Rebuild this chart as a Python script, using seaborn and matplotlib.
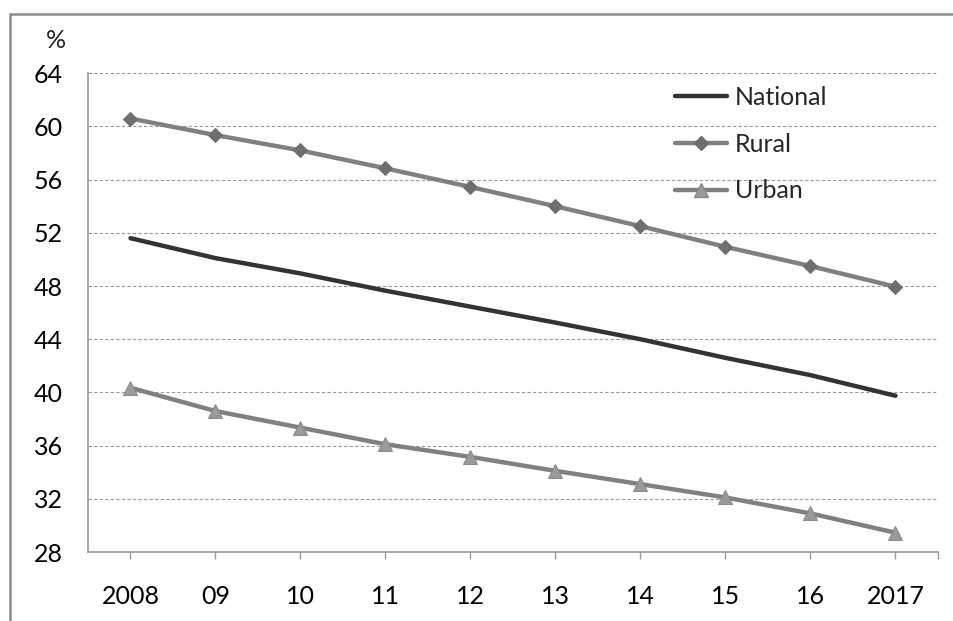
import matplotlib
matplotlib.use("Agg")
import matplotlib.pyplot as plt
import seaborn as sns
import pandas as pd
from matplotlib.patches import Rectangle
from matplotlib.lines import Line2D

years = ["2008", "09", "10", "11", "12", "13", "14", "15", "16", "2017"]
national = [51.6, 50.1, 48.95, 47.65, 46.45, 45.25, 44.0, 42.6, 41.3, 39.75]
rural = [60.6, 59.35, 58.2, 56.85, 55.45, 54.0, 52.5, 50.95, 49.5, 47.95]
urban = [40.35, 38.6, 37.35, 36.1, 35.15, 34.1, 33.1, 32.1, 30.9, 29.45]
y_ticks = [28, 32, 36, 40, 44, 48, 52, 56, 60, 64]

sns.set_theme(style="white")
plt.rcParams["font.family"] = ["Lato", "DejaVu Sans"]

FS = 18

pos = list(range(len(years)))
df = pd.DataFrame({
    "pos": pos * 3,
    "value": national + rural + urban,
    "series": ["National"] * 10 + ["Rural"] * 10 + ["Urban"] * 10,
})

fig = plt.figure(figsize=(9.54, 6.21), dpi=100)
ax = fig.add_axes([88 / 954, 1 - 552 / 621, (938 - 88) / 954, (552 - 73.3) / 621])

palette = {"National": "#333333", "Rural": "#808080", "Urban": "#808080"}
sns.lineplot(data=df, x="pos", y="value", hue="series", palette=palette,
             linewidth=3.2, ax=ax, legend=False)
# markers drawn on top with their own fill colours
ax.lines[1].set_marker("D")
ax.lines[1].set_markersize(7.5)
ax.lines[1].set_markerfacecolor("#6e6e6e")
ax.lines[1].set_markeredgecolor("#6e6e6e")
ax.lines[2].set_marker("^")
ax.lines[2].set_markersize(10)
ax.lines[2].set_markerfacecolor("#9a9a9a")
ax.lines[2].set_markeredgecolor("#8a8a8a")
ax.lines[0].set_solid_capstyle("round")

ax.set_xlim(-0.5, 9.5)
ax.set_ylim(28, 64)
ax.set_yticks(y_ticks)
ax.set_yticklabels([str(v) for v in y_ticks])
ax.set_xticks(pos + [9.5])
ax.set_xticklabels(years + [""])
ax.set_xlabel("")
ax.set_ylabel("")

ax.grid(axis="y", color="#999999", linestyle=(0, (3, 2)), linewidth=0.8)
ax.grid(axis="x", visible=False)
for side in ("top", "right"):
    ax.spines[side].set_visible(False)
for side in ("left", "bottom"):
    ax.spines[side].set_color("#999999")
    ax.spines[side].set_linewidth(1.2)

ax.tick_params(axis="x", which="major", direction="out", length=5, width=1,
               color="#999999", pad=19, labelsize=FS, labelcolor="#000000")
ax.tick_params(axis="y", which="major", length=0, pad=18, labelsize=FS,
               labelcolor="#000000")
ax.tick_params(axis="x", bottom=True)

fig.text(56 / 954, 1 - 40 / 621, "%", fontsize=FS, ha="center", va="center")

# legend
handles = [
    Line2D([], [], color="#333333", linewidth=3.2),
    Line2D([], [], color="#808080", linewidth=3.2, marker="D", markersize=7.5,
           markerfacecolor="#6e6e6e", markeredgecolor="#6e6e6e"),
    Line2D([], [], color="#808080", linewidth=3.2, marker="^", markersize=10,
           markerfacecolor="#9a9a9a", markeredgecolor="#8a8a8a"),
]
ax.legend(handles, ["National", "Rural", "Urban"], loc="upper left",
          bbox_to_anchor=((675 - 88) / 850, (552 - 86) / 478.7),
          frameon=False, fontsize=FS, handlelength=2.1, handletextpad=0.3,
          labelspacing=0.95, borderaxespad=0, borderpad=0)

# outer frame
fig.patches.append(Rectangle((10 / 954, -0.1), 1.1, 1 - 14 / 621 + 0.1,
                             transform=fig.transFigure, fill=False,
                             edgecolor="#8c8c8c", linewidth=1.8))

fig.savefig("out.png", dpi=100)
